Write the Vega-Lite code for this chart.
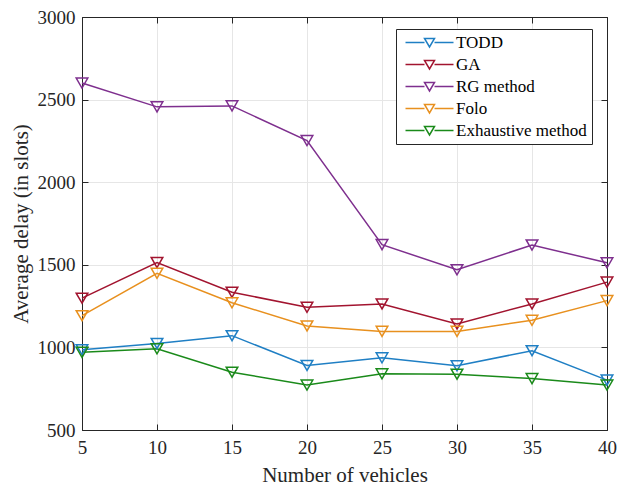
{
  "$schema": "https://vega.github.io/schema/vega-lite/v6.json",
  "width": 525,
  "height": 413,
  "autosize": {"type": "none"},
  "padding": {"left": 82, "top": 17, "right": 15, "bottom": 56},
  "background": "white",
  "config": {
    "font": "Liberation Serif",
    "view": {"stroke": "#262626", "strokeWidth": 1},
    "axis": {
      "labelFont": "Liberation Serif",
      "titleFont": "Liberation Serif",
      "labelFontSize": 19,
      "titleFontSize": 21,
      "titleFontWeight": "normal",
      "labelColor": "#262626",
      "titleColor": "#262626",
      "domainColor": "#262626",
      "tickColor": "#262626",
      "gridColor": "#e6e6e6",
      "gridWidth": 1,
      "tickSize": -6,
      "domain": true
    }
  },
  "data": {"values": [
    {"x": 5, "method": "TODD", "delay": 986},
    {"x": 10, "method": "TODD", "delay": 1024},
    {"x": 15, "method": "TODD", "delay": 1071},
    {"x": 20, "method": "TODD", "delay": 891},
    {"x": 25, "method": "TODD", "delay": 937},
    {"x": 30, "method": "TODD", "delay": 889},
    {"x": 35, "method": "TODD", "delay": 980},
    {"x": 40, "method": "TODD", "delay": 802},
    {"x": 5, "method": "GA", "delay": 1298},
    {"x": 10, "method": "GA", "delay": 1514},
    {"x": 15, "method": "GA", "delay": 1334},
    {"x": 20, "method": "GA", "delay": 1243},
    {"x": 25, "method": "GA", "delay": 1263},
    {"x": 30, "method": "GA", "delay": 1142},
    {"x": 35, "method": "GA", "delay": 1263},
    {"x": 40, "method": "GA", "delay": 1395},
    {"x": 5, "method": "RG method", "delay": 2600},
    {"x": 10, "method": "RG method", "delay": 2456},
    {"x": 15, "method": "RG method", "delay": 2462},
    {"x": 20, "method": "RG method", "delay": 2252},
    {"x": 25, "method": "RG method", "delay": 1622},
    {"x": 30, "method": "RG method", "delay": 1470},
    {"x": 35, "method": "RG method", "delay": 1620},
    {"x": 40, "method": "RG method", "delay": 1512},
    {"x": 5, "method": "Folo", "delay": 1192},
    {"x": 10, "method": "Folo", "delay": 1449},
    {"x": 15, "method": "Folo", "delay": 1270},
    {"x": 20, "method": "Folo", "delay": 1130},
    {"x": 25, "method": "Folo", "delay": 1097},
    {"x": 30, "method": "Folo", "delay": 1097},
    {"x": 35, "method": "Folo", "delay": 1164},
    {"x": 40, "method": "Folo", "delay": 1283},
    {"x": 5, "method": "Exhaustive method", "delay": 970},
    {"x": 10, "method": "Exhaustive method", "delay": 992},
    {"x": 15, "method": "Exhaustive method", "delay": 850},
    {"x": 20, "method": "Exhaustive method", "delay": 772},
    {"x": 25, "method": "Exhaustive method", "delay": 840},
    {"x": 30, "method": "Exhaustive method", "delay": 838},
    {"x": 35, "method": "Exhaustive method", "delay": 811},
    {"x": 40, "method": "Exhaustive method", "delay": 772}
  ]},
  "layer": [
    {
      "encoding": {
        "x": {"field": "x", "type": "quantitative",
          "scale": {"domain": [5, 40], "nice": false, "zero": false},
          "axis": {"title": "Number of vehicles", "values": [5,10,15,20,25,30,35,40], "labelPadding": 14, "titlePadding": 7, "labelFlush": false}},
        "y": {"field": "delay", "type": "quantitative",
          "scale": {"domain": [500, 3000], "nice": false, "zero": false},
          "axis": {"title": "Average delay (in slots)", "values": [500,1000,1500,2000,2500,3000], "format": "d", "labelPadding": 13, "titlePadding": 6}},
        "color": {"field": "method", "type": "nominal",
          "scale": {"domain": ["TODD", "GA", "RG method", "Folo", "Exhaustive method"],
                    "range": ["#1f7fc4", "#a2142f", "#7e2f8e", "#e8901e", "#1a8a1a"]},
          "legend": {
            "title": null,
            "orient": "none",
            "legendX": 314,
            "legendY": 12,
            "direction": "vertical",
            "fillColor": "white",
            "strokeColor": "#262626",
            "padding": 5,
            "labelFont": "Liberation Serif",
            "labelFontSize": 17,
            "labelColor": "#000000",
            "symbolType": "M-4.8,0H-1M1,0H4.8M-1,-0.8L1,-0.8L0,0.9Z",
            "symbolSize": 100,
            "symbolStrokeWidth": 1.5,
            "symbolFillColor": "transparent",
            "symbolOffset": 20,
            "labelOffset": 18,
            "rowPadding": 4
          }
        }
      },
      "layer": [
        {"mark": {"type": "line", "strokeWidth": 1.5}},
        {"mark": {"type": "point", "shape": "triangle-down", "filled": false, "size": 135, "strokeWidth": 1.5, "opacity": 1}}
      ]
    },
    {
      "mark": {"type": "point", "opacity": 0},
      "encoding": {
        "x": {"field": "x", "type": "quantitative",
          "scale": {"domain": [5, 40], "nice": false, "zero": false},
          "axis": {"orient": "top", "title": null, "labels": false, "grid": false, "values": [5,10,15,20,25,30,35,40]}},
        "y": {"field": "delay", "type": "quantitative",
          "scale": {"domain": [500, 3000], "nice": false, "zero": false},
          "axis": {"orient": "right", "title": null, "labels": false, "grid": false, "values": [500,1000,1500,2000,2500,3000]}}
      }
    }
  ],
  "resolve": {"axis": {"x": "independent", "y": "independent"}}
}
